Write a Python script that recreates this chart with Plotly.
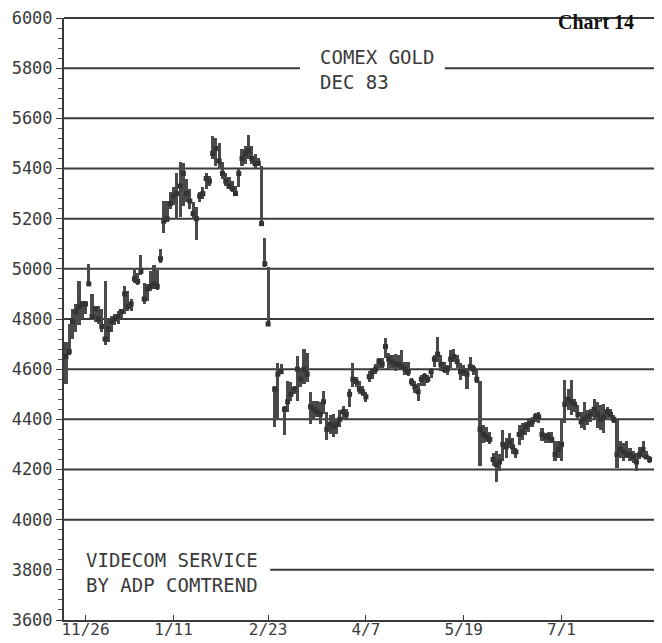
import plotly.graph_objects as go

# daily high / low / close, COMEX gold Dec 83 (dollars x 10 as printed)
highs = [
    4710, 4780, 4840, 4860, 4950, 4870, 4870, 5020, 4900, 4850,
    4850, 4840, 4950, 4800, 4810, 4820, 4830, 4840, 4930, 4910,
    4880, 5005, 4985, 5055, 4945, 4940, 4990, 5015, 4995, 5080,
    5272, 5272, 5305, 5325, 5384, 5424, 5420, 5358, 5318, 5266,
    5246, 5305, 5325, 5384, 5371, 5529, 5522, 5503, 5424, 5384,
    5365, 5351, 5332, 5397, 5476, 5490, 5535, 5490, 5457, 5443,
    5410, 5124, 5008, None,
    4534, 4626, 4620, 4455, 4554, 4547, 4534, 4652, 4606, 4679,
    4666, 4508, 4475, 4475, 4468, 4514, 4429, 4416, 4422, 4403,
    4436, 4455, 4442, 4521, 4626, 4567, 4554, 4534, 4508, 4593,
    4606, 4620, 4646, 4646, 4725, 4666,
    4656, 4662, 4656, 4675, 4630, 4630, 4565, 4552, 4545, 4578,
    4584, 4578, 4604, 4656, 4727, 4656, 4630, 4617, 4675, 4682,
    4656, 4623, 4617, 4604, 4649, 4617, 4597, 4552,
    4376, 4370, 4350, 4266, 4272,
    4260, 4358, 4325, 4345, 4325, 4286, 4378, 4384, 4391, 4404,
    4410, 4424, 4430, 4365, 4345, 4350, 4351, 4312, 4312, 4397,
    4555, 4522, 4555, 4483, 4456, 4430, 4470, 4437, 4443, 4483,
    4470, 4456, 4463, 4450, 4443, 4417, 4397, 4312, 4306, 4312,
    4286, 4273, 4266, 4290, 4312, 4273, 4253,
]
lows = [
    4540, 4655, 4720, 4750, 4775, 4800, 4820, 4935, 4795, 4790,
    4780, 4750, 4695, 4710, 4750, 4775, 4780, 4800, 4820, 4830,
    4830, 4945, 4935, 4975, 4860, 4870, 4910, 4920, 4915, 5025,
    5141, 5187, 5240, 5253, 5200, 5207, 5250, 5266, 5240, 5200,
    5114, 5266, 5279, 5318, 5332, 5437, 5410, 5397, 5358, 5332,
    5318, 5305, 5292, 5325, 5410, 5417, 5437, 5417, 5404, 5410,
    5174, 5008, 4777, None,
    4370, 4396, 4580, 4337, 4429, 4475, 4501, 4475, 4528, 4541,
    4547, 4383, 4396, 4409, 4383, 4422, 4317, 4343, 4330, 4343,
    4370, 4396, 4403, 4449, 4528, 4528, 4501, 4495, 4468, 4547,
    4560, 4580, 4606, 4606, 4646, 4600,
    4604, 4591, 4604, 4597, 4578, 4571, 4532, 4506, 4474, 4532,
    4532, 4545, 4565, 4610, 4630, 4591, 4584, 4578, 4604, 4630,
    4604, 4558, 4571, 4519, 4591, 4578, 4545, 4214,
    4305, 4311, 4300, 4214, 4149,
    4194, 4233, 4247, 4286, 4260, 4247, 4299, 4319, 4338, 4351,
    4371, 4391, 4384, 4312, 4306, 4306, 4306, 4233, 4247, 4233,
    4384, 4437, 4417, 4430, 4404, 4365, 4358, 4378, 4391, 4397,
    4365, 4358, 4345, 4404, 4404, 4384, 4207, 4247, 4233, 4247,
    4233, 4227, 4194, 4240, 4247, 4240, 4227,
]
closes = [
    4650, 4670, 4790, 4830, 4850, 4860, 4860, 4940, 4810, 4840,
    4800, 4770, 4720, 4760, 4790, 4800, 4810, 4830, 4900, 4850,
    4860, 4960, 4950, 4990, 4880, 4920, 4930, 4940, 4930, 5040,
    5190, 5200, 5260, 5290, 5300, 5330, 5380, 5300, 5270, 5220,
    5200, 5290, 5300, 5360, 5350, 5460, 5480, 5430, 5380, 5350,
    5330, 5320, 5300, 5380, 5440, 5460, 5470, 5440, 5420, 5420,
    5180, 5020, 4780, None,
    4520, 4580, 4590, 4440, 4470, 4500, 4520, 4600, 4560, 4600,
    4580, 4450, 4440, 4430, 4420, 4470, 4360, 4380, 4370, 4380,
    4400, 4430, 4420, 4500, 4560, 4550, 4520, 4510, 4490, 4570,
    4590, 4600, 4630, 4620, 4690, 4640,
    4630, 4620, 4620, 4610, 4600, 4590, 4550, 4530, 4510, 4560,
    4570, 4560, 4590, 4640, 4660, 4620, 4600, 4600, 4640, 4650,
    4630, 4590, 4590, 4580, 4610, 4600, 4560, 4360,
    4340, 4330, 4320, 4240, 4220,
    4230, 4300, 4290, 4310, 4290, 4270, 4340, 4350, 4370, 4380,
    4390, 4410, 4410, 4340, 4330, 4330, 4320, 4260, 4280, 4300,
    4460, 4480, 4470, 4460, 4420, 4390, 4400, 4410, 4420, 4440,
    4420, 4400, 4410, 4430, 4420, 4400, 4260, 4280, 4270, 4260,
    4260, 4250, 4230, 4260, 4280, 4250, 4240,
]

date_labels = ["11/26", "1/11", "2/23", "4/7", "5/19", "7/1"]
date_days = [6, 33, 62, 92, 122, 152]
price_levels = [3600, 3800, 4000, 4200, 4400, 4600, 4800, 5000, 5200, 5400, 5600, 5800, 6000]

INK = "#3a3a3a"
MONO = "DejaVu Sans Mono"

days = list(range(len(highs)))
spans = [None if h is None else h - l for h, l in zip(highs, lows)]

fig = go.Figure()
fig.add_trace(go.Bar(
    x=days, y=spans, base=lows, width=0.95,
    marker=dict(color="#4a4a4a", line=dict(width=0)),
    hoverinfo="skip",
))
fig.add_trace(go.Scatter(
    x=days, y=closes, mode="markers",
    marker=dict(symbol="square", size=5, color="#333333"),
    hoverinfo="skip",
))

# horizontal rules, some broken where the printout has text
shapes = []
for lvl in price_levels[1:-1]:
    if lvl == 5800:
        segs = [(0, 0.396), (0.639, 1)]
    elif lvl == 3800:
        segs = [(0.346, 1)]
    else:
        segs = [(0, 1)]
    for a, b in segs:
        shapes.append(dict(type="line", xref="paper", yref="y", x0=a, x1=b,
                           y0=lvl, y1=lvl, line=dict(color=INK, width=2), layer="below"))
# top rule (6000) sits on the plot edge, draw it unclipped
shapes.append(dict(type="line", xref="paper", yref="paper", x0=0, x1=1, y0=1, y1=1,
                   line=dict(color=INK, width=2)))
shapes.append(dict(type="line", xref="paper", yref="paper", x0=1, x1=1, y0=0, y1=1,
                   line=dict(color="#555555", width=1.5, dash="dot")))

notes = [
    ("COMEX GOLD", 0.426, 0.935, MONO, 19, INK, False),
    ("DEC 83", 0.426, 0.894, MONO, 19, INK, False),
    ("VIDECOM SERVICE", 0.034, 0.100, MONO, 19, INK, False),
    ("BY ADP COMTREND", 0.034, 0.058, MONO, 19, INK, False),
    ("Chart 14", 0.826, 0.993, "Liberation Serif", 20, "#111111", True),
]
annotations = []
for text, x, y, fam, size, col, bold in notes:
    annotations.append(dict(
        text=f"<b>{text}</b>" if bold else text, x=x, y=y, xref="paper", yref="paper",
        xanchor="left", yanchor="middle", showarrow=False,
        font=dict(family=fam, size=size, color=col),
    ))

# page body adds an 8px offset, so the figure is sized to fit the window
fig.update_layout(
    width=654, height=635,
    margin=dict(l=56, r=2, t=10, b=23),
    paper_bgcolor="white", plot_bgcolor="white",
    showlegend=False, bargap=0,
    shapes=shapes, annotations=annotations,
    xaxis=dict(
        range=[-0.6, 182.2], showgrid=False, zeroline=False, automargin=False,
        tickvals=date_days, ticktext=date_labels,
        ticks="inside", ticklen=5, tickcolor=INK,
        showline=True, linecolor=INK, linewidth=2,
        tickfont=dict(family=MONO, size=16, color=INK),
        ticklabelstandoff=-6, ticklabeloverflow="allow",
    ),
    yaxis=dict(
        range=[3600, 6000], showgrid=False, zeroline=False, automargin=False,
        tickvals=price_levels, ticktext=[str(v) for v in price_levels],
        ticks="outside", ticklen=6, tickcolor=INK,
        showline=True, linecolor=INK, linewidth=2,
        tickfont=dict(family=MONO, size=17, color=INK),
        ticklabeloverflow="allow",
        minor=dict(dtick=40, ticks="outside", ticklen=4, tickcolor="#555555"),
    ),
)

fig.write_html("out.html")
